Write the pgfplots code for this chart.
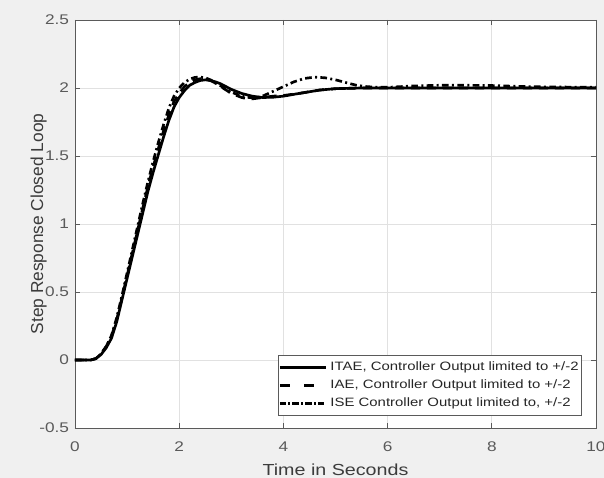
\documentclass[border=0pt]{standalone}
\usepackage{fontspec}
\setmainfont[FakeStretch=1.23]{Liberation Sans}
\newfontfamily\plainsans{Liberation Sans}
\usepackage{pgfplots}
\pgfplotsset{compat=1.18}
\definecolor{figbg}{RGB}{240,240,240}
\definecolor{axgray}{RGB}{90,90,90}
\definecolor{labgray}{RGB}{60,60,60}
\definecolor{gridgray}{RGB}{225,225,225}

\pgfplotstableread{
t y
0 0
0.3 0
0.4 0.01
0.5 0.04
0.6 0.09
0.7 0.16
0.8 0.28
0.9 0.44
1.0 0.60
1.1 0.76
1.2 0.92
1.3 1.08
1.4 1.24
1.5 1.38
1.6 1.51
1.7 1.64
1.8 1.76
1.9 1.86
2.0 1.93
2.1 1.98
2.2 2.02
2.3 2.04
2.4 2.055
2.5 2.06
2.6 2.055
2.7 2.045
2.8 2.03
2.9 2.01
3.0 1.99
3.2 1.96
3.4 1.94
3.6 1.93
3.8 1.932
4.0 1.94
4.3 1.96
4.7 1.985
5.0 1.995
5.5 2.0
6.0 2.0
10 2.0
}\itae

\pgfplotstableread{
t y
0 0
0.3 0
0.4 0.01
0.5 0.045
0.6 0.10
0.7 0.175
0.8 0.295
0.9 0.455
1.0 0.62
1.1 0.785
1.2 0.95
1.3 1.115
1.4 1.275
1.5 1.42
1.6 1.555
1.7 1.685
1.8 1.80
1.9 1.90
2.0 1.96
2.1 2.01
2.2 2.04
2.3 2.06
2.4 2.068
2.5 2.065
2.6 2.055
2.7 2.035
2.8 2.01
2.9 1.985
3.0 1.96
3.1 1.945
3.2 1.93
3.3 1.922
3.4 1.92
3.5 1.925
3.6 1.93
3.8 1.94
4.0 1.945
4.3 1.96
4.7 1.985
5.0 1.995
5.5 2.0
10 2.0
}\iae

\pgfplotstableread{
t y
0 0
0.3 0
0.4 0.01
0.5 0.045
0.6 0.10
0.7 0.18
0.8 0.31
0.9 0.47
1.0 0.64
1.1 0.81
1.2 0.98
1.3 1.15
1.4 1.31
1.5 1.46
1.6 1.60
1.7 1.73
1.8 1.85
1.9 1.94
2.0 2.0
2.1 2.04
2.2 2.065
2.3 2.078
2.4 2.08
2.5 2.075
2.6 2.06
2.7 2.04
2.8 2.015
2.9 1.99
3.0 1.97
3.1 1.955
3.2 1.94
3.3 1.932
3.4 1.928
3.5 1.93
3.6 1.94
3.8 1.975
4.0 2.01
4.2 2.045
4.4 2.07
4.6 2.08
4.8 2.075
5.0 2.06
5.2 2.04
5.4 2.02
5.6 2.01
5.8 2.005
6.0 2.005
6.5 2.015
7.0 2.02
7.5 2.02
8.0 2.018
8.5 2.012
9.0 2.008
10 2.005
}\ise

\begin{document}
\begin{tikzpicture}
% figure background, 604 x 478 px at 0.75pt per px
\fill[figbg] (-56.25pt,-37.5pt) rectangle (396.75pt,321pt);
\useasboundingbox (-56.25pt,-37.5pt) rectangle (396.75pt,321pt);
\begin{axis}[
    at={(0pt,0pt)}, anchor=south west,
    scale only axis,
    width=390.75pt, height=306pt,
    xmin=0, xmax=10, ymin=-0.5, ymax=2.5,
    xtick={0,2,...,10},
    ytick={-0.5,0,0.5,1,1.5,2,2.5},
    /pgf/number format/assume math mode=true,
    yticklabel style={/pgf/number format/fixed, /pgf/number format/precision=1},
    tick label style={font=\fontsize{10.5}{12}\selectfont, text=axgray},
    xticklabel style={yshift=-7pt},
    yticklabel style={xshift=-1pt},
    xlabel={Time in Seconds},
    ylabel={Step Response Closed Loop},
    xlabel style={at={(axis description cs:0.5,-0.1176)}, anchor=base,
        font=\fontsize{12}{14}\selectfont, text=labgray, inner sep=0pt},
    ylabel style={at={(axis description cs:-0.0537,0.5)}, anchor=south, rotate=0,
        font=\plainsans\fontsize{13}{15}\selectfont, text=labgray, inner sep=0pt},
    axis background/.style={fill=white},
    axis line style={draw=axgray, line width=0.6pt},
    tick style={draw=axgray, line width=0.6pt},
    tick align=inside,
    major tick length=4pt,
    grid=major,
    grid style={draw=gridgray, line width=0.6pt},
]
\addplot[black, line width=2pt, dash pattern=on 5pt off 2.5pt on 1.5pt off 2.5pt] table[x=t,y=y] {\ise};
\addplot[black, line width=2pt, dash pattern=on 7pt off 5pt] table[x=t,y=y] {\iae};
\addplot[black, line width=2pt] table[x=t,y=y] {\itae};
\end{axis}
\begin{axis}[
    at={(0pt,0pt)}, anchor=south west,
    scale only axis,
    width=390.75pt, height=306pt,
    xmin=0, xmax=10, ymin=-0.5, ymax=2.5,
    hide axis,
    legend cell align=left,
    legend style={
        at={(rel axis cs:0.9725,0.0294)}, anchor=south east,
        font=\fontsize{9.1}{11}\selectfont,
        text=black!85,
        draw=axgray, line width=0.6pt, fill=white,
        row sep=1.4pt, inner xsep=0pt, inner ysep=3pt,
        nodes={line width=0.6pt, inner xsep=2pt},
    },
    legend image code/.code={\draw[#1] (-1pt,0pt) -- (34pt,0pt);},
]
\addplot[black, line width=2pt, forget plot] coordinates {(20,20)};
\addlegendimage{black, line width=2pt}
\addlegendentry{ITAE, Controller Output limited to +/-2}
\addlegendimage{black, line width=2pt, dash pattern=on 7.5pt off 11pt}
\addlegendentry{IAE, Controller Output limited to +/-2}
\addlegendimage{black, line width=2pt, dash pattern=on 5pt off 1.5pt on 1.5pt off 1.5pt}
\addlegendentry{ISE Controller Output limited to, +/-2}
\end{axis}
\end{tikzpicture}
\end{document}
